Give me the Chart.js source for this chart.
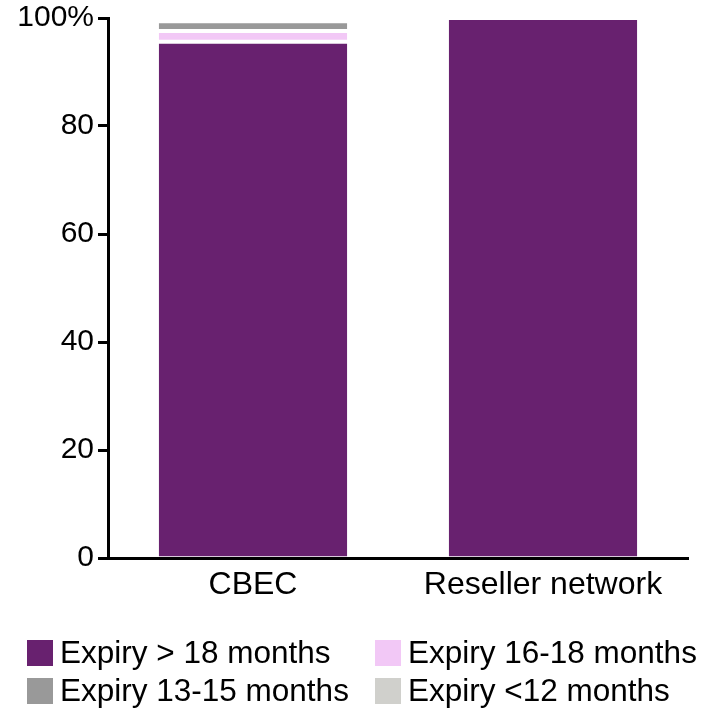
<!DOCTYPE html>
<html>
<head>
<meta charset="utf-8">
<script src="https://cdn.jsdelivr.net/npm/chart.js@4.4.0/dist/chart.umd.min.js"></script>
<style>
  body { margin: 0; background: #fff; }
  #wrap { position: relative; width: 702px; height: 708px; }
  #legend { position: absolute; left: 27px; top: 634px; width: 690px;
    font-family: "Liberation Sans", Arial, sans-serif; font-size: 31.5px; color: #000; }
  .item { position: absolute; display: flex; align-items: center; white-space: nowrap; }
  .box { width: 26px; height: 26px; margin-right: 7px; }
</style>
</head>
<body>
<div id="wrap">
  <canvas id="myChart" width="702" height="708"></canvas>
  <div id="legend"></div>
</div>
<script>
// values in percent
const categories = ['CBEC', 'Reseller network'];
const over18 = [95.6, 100];
const m16to18 = [2.0, 0];
const m13to15 = [1.8, 0];
const under12 = [0.6, 0];
const yTicks = [0, 20, 40, 60, 80, 100];

const ctx = document.getElementById('myChart');
const fontY = { family: '"Liberation Sans", Arial, sans-serif', size: 30 };
const fontX = { family: '"Liberation Sans", Arial, sans-serif', size: 32 };

const mk = (label, data, color, skip) => ({
    label: label,
    data: data,
    backgroundColor: color,
    borderColor: '#ffffff',
    borderWidth: { top: 2, bottom: 2, left: 0, right: 0 },
    borderSkipped: skip,
    barPercentage: 0.65,
    categoryPercentage: 1
});

const myChart = new Chart(ctx, {
    type: 'bar',
    data: {
        labels: categories,
        datasets: [
            mk('Expiry > 18 months', over18, '#68216f', 'start'),
            mk('Expiry 16-18 months', m16to18, '#f2c8f6', false),
            mk('Expiry 13-15 months', m13to15, '#999999', false),
            mk('Expiry <12 months', under12, '#d0d0cc', false)
        ]
    },
    options: {
        responsive: false,
        animation: false,
        layout: { padding: { top: 18, right: 14, bottom: 100, left: 0 } },
        plugins: { legend: { display: false }, tooltip: { enabled: false } },
        scales: {
            x: {
                stacked: true,
                grid: { display: false },
                border: { display: true, color: '#000', width: 3 },
                ticks: { color: '#000', font: fontX, padding: 0 },
                afterFit: (s) => { s.height = 50; }
            },
            y: {
                stacked: true,
                min: 0,
                max: 100,
                afterBuildTicks: (s) => { s.ticks = yTicks.map(v => ({ value: v })); },
                grid: { drawOnChartArea: false, color: '#000', lineWidth: 3, tickLength: 10 },
                border: { display: true, color: '#000', width: 3 },
                ticks: {
                    color: '#000', font: fontY, padding: 4,
                    callback: (v) => v === 100 ? '100%' : v
                },
                afterFit: (s) => { s.width = 108; s.paddingTop = 0; s.paddingBottom = 0; }
            }
        }
    }
});

// legend in two fixed columns
const pos = [[0, 0], [348, 0], [0, 38], [348, 38]];
const leg = document.getElementById('legend');
myChart.data.datasets.forEach((d, i) => {
    const el = document.createElement('div');
    el.className = 'item';
    el.style.left = pos[i][0] + 'px';
    el.style.top = pos[i][1] + 'px';
    el.innerHTML = '<span class="box" style="background:' + d.backgroundColor + '"></span>' + d.label;
    leg.appendChild(el);
});
</script>
</body>
</html>
